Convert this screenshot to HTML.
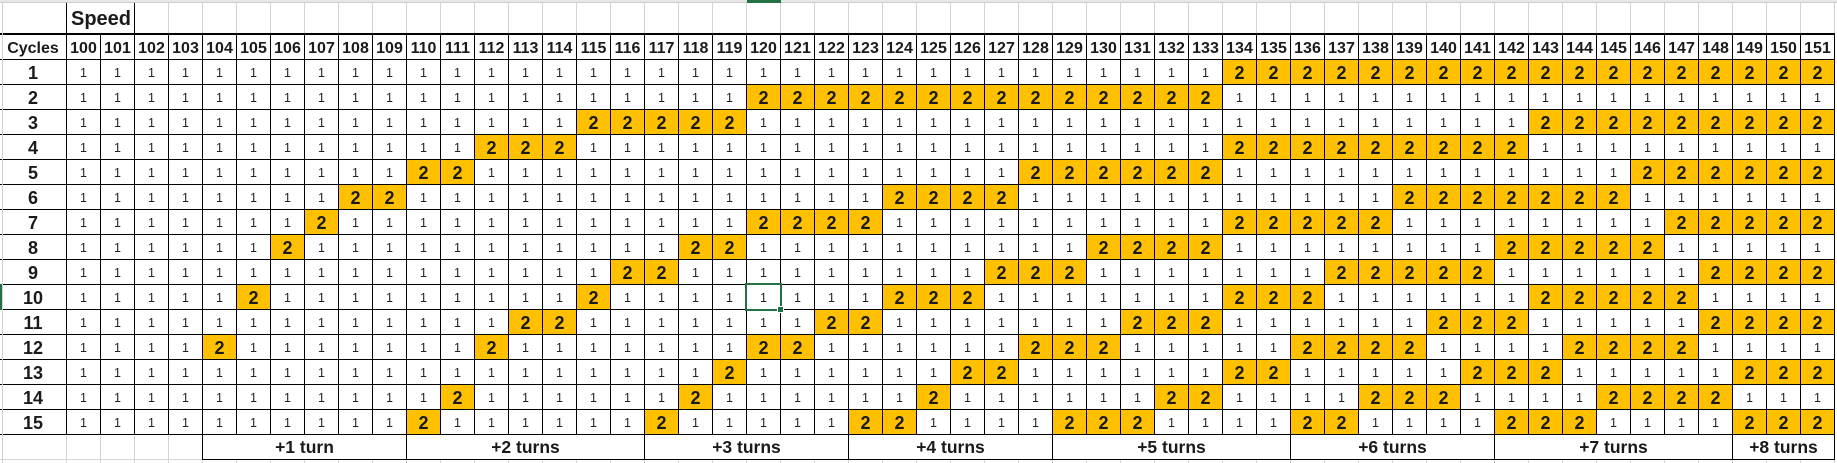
<!DOCTYPE html>
<html><head><meta charset="utf-8"><style>
*{margin:0;padding:0;box-sizing:border-box}
html,body{width:1837px;height:463px;overflow:hidden;background:#fff;font-family:"Liberation Sans",Arial,sans-serif;color:#1a1a1a;position:relative}
.top{position:absolute;left:0;top:0;width:1837px;height:3px;background:#e8e8e8;border-bottom:1px solid #cdcdcd}
.gl{position:absolute;background:repeating-linear-gradient(to right,#d4d4d4 0 1px,transparent 1px 34px)}
.speed{position:absolute;left:66px;top:3px;width:69px;height:30px;background:#fff;border-left:1px solid #000;border-right:1px solid #000;font-weight:bold;font-size:20px;padding-left:4px;padding-top:5px;line-height:22px}
.g{position:absolute;left:0;top:33px;display:grid;grid-template-columns:66px repeat(52,33px);grid-template-rows:repeat(16,24px);gap:1px;background:#000;border-top:2px solid #000;border-right:1px solid #000;border-bottom:1px solid #000}
.g>*{background:#fff;display:flex;align-items:center;justify-content:center;text-decoration:none;font-style:normal;line-height:1}
.g>i{font-size:12.5px;padding-top:2px;color:#222}
.g>b{background:#ffc000;font-size:18px;padding-top:2px;font-weight:bold}
.g>s{font-weight:bold;font-size:18px;padding-top:2px}
.g>em{font-weight:bold;font-size:16px;padding-top:3px}
.lb{position:absolute;top:435px;height:25px;border:1px solid #000;border-top:none;background:#fff;display:flex;align-items:center;justify-content:center;font-weight:bold;font-size:17.5px;padding-top:1px}
.hl{position:absolute;left:0;top:459px;width:1835px;height:1px;background:#d4d4d4}
.vl{position:absolute;left:2px;top:3px;width:1px;height:460px;background:#d0d0d0}
.sel{position:absolute;left:745px;top:283px;width:37px;height:28px;border:2px solid #217346}
.fh{position:absolute;left:778px;top:307px;width:5px;height:5px;background:#217346;outline:1px solid #fff}
.rm{position:absolute;left:0;top:284px;width:2px;height:26px;background:#217346}
.cm{position:absolute;left:747px;top:0;width:34px;height:3px;background:#217346}
</style></head><body>
<div class="top"></div>
<div class="cm"></div>
<div class="gl" style="left:66px;top:3px;width:1770px;height:30px"></div>
<div class="speed">Speed</div>
<div class="gl" style="left:66px;top:435px;width:1770px;height:28px"></div>
<div class="hl"></div>
<div class="g">
<em>Cycles</em><em>100</em><em>101</em><em>102</em><em>103</em><em>104</em><em>105</em><em>106</em><em>107</em><em>108</em><em>109</em><em>110</em><em>111</em><em>112</em><em>113</em><em>114</em><em>115</em><em>116</em><em>117</em><em>118</em><em>119</em><em>120</em><em>121</em><em>122</em><em>123</em><em>124</em><em>125</em><em>126</em><em>127</em><em>128</em><em>129</em><em>130</em><em>131</em><em>132</em><em>133</em><em>134</em><em>135</em><em>136</em><em>137</em><em>138</em><em>139</em><em>140</em><em>141</em><em>142</em><em>143</em><em>144</em><em>145</em><em>146</em><em>147</em><em>148</em><em>149</em><em>150</em><em>151</em>
<s>1</s>
<i>1</i><i>1</i><i>1</i><i>1</i><i>1</i> <i>1</i><i>1</i><i>1</i><i>1</i><i>1</i> <i>1</i><i>1</i><i>1</i><i>1</i><i>1</i> <i>1</i><i>1</i><i>1</i><i>1</i><i>1</i> <i>1</i><i>1</i><i>1</i><i>1</i><i>1</i> <i>1</i><i>1</i><i>1</i><i>1</i><i>1</i> <i>1</i><i>1</i><i>1</i><i>1</i>
<b>2</b><b>2</b><b>2</b><b>2</b><b>2</b> <b>2</b><b>2</b><b>2</b><b>2</b><b>2</b> <b>2</b><b>2</b><b>2</b><b>2</b><b>2</b> <b>2</b><b>2</b><b>2</b>
<s>2</s>
<i>1</i><i>1</i><i>1</i><i>1</i><i>1</i> <i>1</i><i>1</i><i>1</i><i>1</i><i>1</i> <i>1</i><i>1</i><i>1</i><i>1</i><i>1</i> <i>1</i><i>1</i><i>1</i><i>1</i><i>1</i>
<b>2</b><b>2</b><b>2</b><b>2</b><b>2</b> <b>2</b><b>2</b><b>2</b><b>2</b><b>2</b> <b>2</b><b>2</b><b>2</b><b>2</b>
<i>1</i><i>1</i><i>1</i><i>1</i><i>1</i> <i>1</i><i>1</i><i>1</i><i>1</i><i>1</i> <i>1</i><i>1</i><i>1</i><i>1</i><i>1</i> <i>1</i><i>1</i><i>1</i>
<s>3</s>
<i>1</i><i>1</i><i>1</i><i>1</i><i>1</i> <i>1</i><i>1</i><i>1</i><i>1</i><i>1</i> <i>1</i><i>1</i><i>1</i><i>1</i><i>1</i>
<b>2</b><b>2</b><b>2</b><b>2</b><b>2</b>
<i>1</i><i>1</i><i>1</i><i>1</i><i>1</i> <i>1</i><i>1</i><i>1</i><i>1</i><i>1</i> <i>1</i><i>1</i><i>1</i><i>1</i><i>1</i> <i>1</i><i>1</i><i>1</i><i>1</i><i>1</i> <i>1</i><i>1</i><i>1</i>
<b>2</b><b>2</b><b>2</b><b>2</b><b>2</b> <b>2</b><b>2</b><b>2</b><b>2</b>
<s>4</s>
<i>1</i><i>1</i><i>1</i><i>1</i><i>1</i> <i>1</i><i>1</i><i>1</i><i>1</i><i>1</i> <i>1</i><i>1</i>
<b>2</b><b>2</b><b>2</b>
<i>1</i><i>1</i><i>1</i><i>1</i><i>1</i> <i>1</i><i>1</i><i>1</i><i>1</i><i>1</i> <i>1</i><i>1</i><i>1</i><i>1</i><i>1</i> <i>1</i><i>1</i><i>1</i><i>1</i>
<b>2</b><b>2</b><b>2</b><b>2</b><b>2</b> <b>2</b><b>2</b><b>2</b><b>2</b>
<i>1</i><i>1</i><i>1</i><i>1</i><i>1</i> <i>1</i><i>1</i><i>1</i><i>1</i>
<s>5</s>
<i>1</i><i>1</i><i>1</i><i>1</i><i>1</i> <i>1</i><i>1</i><i>1</i><i>1</i><i>1</i>
<b>2</b><b>2</b>
<i>1</i><i>1</i><i>1</i><i>1</i><i>1</i> <i>1</i><i>1</i><i>1</i><i>1</i><i>1</i> <i>1</i><i>1</i><i>1</i><i>1</i><i>1</i> <i>1</i>
<b>2</b><b>2</b><b>2</b><b>2</b><b>2</b> <b>2</b>
<i>1</i><i>1</i><i>1</i><i>1</i><i>1</i> <i>1</i><i>1</i><i>1</i><i>1</i><i>1</i> <i>1</i><i>1</i>
<b>2</b><b>2</b><b>2</b><b>2</b><b>2</b> <b>2</b>
<s>6</s>
<i>1</i><i>1</i><i>1</i><i>1</i><i>1</i> <i>1</i><i>1</i><i>1</i>
<b>2</b><b>2</b>
<i>1</i><i>1</i><i>1</i><i>1</i><i>1</i> <i>1</i><i>1</i><i>1</i><i>1</i><i>1</i> <i>1</i><i>1</i><i>1</i><i>1</i>
<b>2</b><b>2</b><b>2</b><b>2</b>
<i>1</i><i>1</i><i>1</i><i>1</i><i>1</i> <i>1</i><i>1</i><i>1</i><i>1</i><i>1</i> <i>1</i>
<b>2</b><b>2</b><b>2</b><b>2</b><b>2</b> <b>2</b><b>2</b>
<i>1</i><i>1</i><i>1</i><i>1</i><i>1</i> <i>1</i>
<s>7</s>
<i>1</i><i>1</i><i>1</i><i>1</i><i>1</i> <i>1</i><i>1</i>
<b>2</b>
<i>1</i><i>1</i><i>1</i><i>1</i><i>1</i> <i>1</i><i>1</i><i>1</i><i>1</i><i>1</i> <i>1</i><i>1</i>
<b>2</b><b>2</b><b>2</b><b>2</b>
<i>1</i><i>1</i><i>1</i><i>1</i><i>1</i> <i>1</i><i>1</i><i>1</i><i>1</i><i>1</i>
<b>2</b><b>2</b><b>2</b><b>2</b><b>2</b>
<i>1</i><i>1</i><i>1</i><i>1</i><i>1</i> <i>1</i><i>1</i><i>1</i>
<b>2</b><b>2</b><b>2</b><b>2</b><b>2</b>
<s>8</s>
<i>1</i><i>1</i><i>1</i><i>1</i><i>1</i> <i>1</i>
<b>2</b>
<i>1</i><i>1</i><i>1</i><i>1</i><i>1</i> <i>1</i><i>1</i><i>1</i><i>1</i><i>1</i> <i>1</i>
<b>2</b><b>2</b>
<i>1</i><i>1</i><i>1</i><i>1</i><i>1</i> <i>1</i><i>1</i><i>1</i><i>1</i><i>1</i>
<b>2</b><b>2</b><b>2</b><b>2</b>
<i>1</i><i>1</i><i>1</i><i>1</i><i>1</i> <i>1</i><i>1</i><i>1</i>
<b>2</b><b>2</b><b>2</b><b>2</b><b>2</b>
<i>1</i><i>1</i><i>1</i><i>1</i><i>1</i>
<s>9</s>
<i>1</i><i>1</i><i>1</i><i>1</i><i>1</i> <i>1</i><i>1</i><i>1</i><i>1</i><i>1</i> <i>1</i><i>1</i><i>1</i><i>1</i><i>1</i> <i>1</i>
<b>2</b><b>2</b>
<i>1</i><i>1</i><i>1</i><i>1</i><i>1</i> <i>1</i><i>1</i><i>1</i><i>1</i>
<b>2</b><b>2</b><b>2</b>
<i>1</i><i>1</i><i>1</i><i>1</i><i>1</i> <i>1</i><i>1</i>
<b>2</b><b>2</b><b>2</b><b>2</b><b>2</b>
<i>1</i><i>1</i><i>1</i><i>1</i><i>1</i> <i>1</i>
<b>2</b><b>2</b><b>2</b><b>2</b>
<s>10</s>
<i>1</i><i>1</i><i>1</i><i>1</i><i>1</i>
<b>2</b>
<i>1</i><i>1</i><i>1</i><i>1</i><i>1</i> <i>1</i><i>1</i><i>1</i><i>1</i>
<b>2</b>
<i>1</i><i>1</i><i>1</i><i>1</i><i>1</i> <i>1</i><i>1</i><i>1</i>
<b>2</b><b>2</b><b>2</b>
<i>1</i><i>1</i><i>1</i><i>1</i><i>1</i> <i>1</i><i>1</i>
<b>2</b><b>2</b><b>2</b>
<i>1</i><i>1</i><i>1</i><i>1</i><i>1</i> <i>1</i>
<b>2</b><b>2</b><b>2</b><b>2</b><b>2</b>
<i>1</i><i>1</i><i>1</i><i>1</i>
<s>11</s>
<i>1</i><i>1</i><i>1</i><i>1</i><i>1</i> <i>1</i><i>1</i><i>1</i><i>1</i><i>1</i> <i>1</i><i>1</i><i>1</i>
<b>2</b><b>2</b>
<i>1</i><i>1</i><i>1</i><i>1</i><i>1</i> <i>1</i><i>1</i>
<b>2</b><b>2</b>
<i>1</i><i>1</i><i>1</i><i>1</i><i>1</i> <i>1</i><i>1</i>
<b>2</b><b>2</b><b>2</b>
<i>1</i><i>1</i><i>1</i><i>1</i><i>1</i> <i>1</i>
<b>2</b><b>2</b><b>2</b>
<i>1</i><i>1</i><i>1</i><i>1</i><i>1</i>
<b>2</b><b>2</b><b>2</b><b>2</b>
<s>12</s>
<i>1</i><i>1</i><i>1</i><i>1</i>
<b>2</b>
<i>1</i><i>1</i><i>1</i><i>1</i><i>1</i> <i>1</i><i>1</i>
<b>2</b>
<i>1</i><i>1</i><i>1</i><i>1</i><i>1</i> <i>1</i><i>1</i>
<b>2</b><b>2</b>
<i>1</i><i>1</i><i>1</i><i>1</i><i>1</i> <i>1</i>
<b>2</b><b>2</b><b>2</b>
<i>1</i><i>1</i><i>1</i><i>1</i><i>1</i>
<b>2</b><b>2</b><b>2</b><b>2</b>
<i>1</i><i>1</i><i>1</i><i>1</i>
<b>2</b><b>2</b><b>2</b><b>2</b>
<i>1</i><i>1</i><i>1</i><i>1</i>
<s>13</s>
<i>1</i><i>1</i><i>1</i><i>1</i><i>1</i> <i>1</i><i>1</i><i>1</i><i>1</i><i>1</i> <i>1</i><i>1</i><i>1</i><i>1</i><i>1</i> <i>1</i><i>1</i><i>1</i><i>1</i>
<b>2</b>
<i>1</i><i>1</i><i>1</i><i>1</i><i>1</i> <i>1</i>
<b>2</b><b>2</b>
<i>1</i><i>1</i><i>1</i><i>1</i><i>1</i> <i>1</i>
<b>2</b><b>2</b>
<i>1</i><i>1</i><i>1</i><i>1</i><i>1</i>
<b>2</b><b>2</b><b>2</b>
<i>1</i><i>1</i><i>1</i><i>1</i><i>1</i>
<b>2</b><b>2</b><b>2</b>
<s>14</s>
<i>1</i><i>1</i><i>1</i><i>1</i><i>1</i> <i>1</i><i>1</i><i>1</i><i>1</i><i>1</i> <i>1</i>
<b>2</b>
<i>1</i><i>1</i><i>1</i><i>1</i><i>1</i> <i>1</i>
<b>2</b>
<i>1</i><i>1</i><i>1</i><i>1</i><i>1</i> <i>1</i>
<b>2</b>
<i>1</i><i>1</i><i>1</i><i>1</i><i>1</i> <i>1</i>
<b>2</b><b>2</b>
<i>1</i><i>1</i><i>1</i><i>1</i>
<b>2</b><b>2</b><b>2</b>
<i>1</i><i>1</i><i>1</i><i>1</i>
<b>2</b><b>2</b><b>2</b><b>2</b>
<i>1</i><i>1</i><i>1</i>
<s>15</s>
<i>1</i><i>1</i><i>1</i><i>1</i><i>1</i> <i>1</i><i>1</i><i>1</i><i>1</i><i>1</i>
<b>2</b>
<i>1</i><i>1</i><i>1</i><i>1</i><i>1</i> <i>1</i>
<b>2</b>
<i>1</i><i>1</i><i>1</i><i>1</i><i>1</i>
<b>2</b><b>2</b>
<i>1</i><i>1</i><i>1</i><i>1</i>
<b>2</b><b>2</b><b>2</b>
<i>1</i><i>1</i><i>1</i><i>1</i>
<b>2</b><b>2</b>
<i>1</i><i>1</i><i>1</i><i>1</i>
<b>2</b><b>2</b><b>2</b>
<i>1</i><i>1</i><i>1</i><i>1</i>
<b>2</b><b>2</b><b>2</b>
</div>
<div class="lb" style="left:202px;width:205px">+1 turn</div>
<div class="lb" style="left:406px;width:239px">+2 turns</div>
<div class="lb" style="left:644px;width:205px">+3 turns</div>
<div class="lb" style="left:848px;width:205px">+4 turns</div>
<div class="lb" style="left:1052px;width:239px">+5 turns</div>
<div class="lb" style="left:1290px;width:205px">+6 turns</div>
<div class="lb" style="left:1494px;width:239px">+7 turns</div>
<div class="lb" style="left:1732px;width:103px">+8 turns</div>
<div class="vl"></div>
<div class="rm"></div>
<div class="sel"></div>
<div class="fh"></div>
</body></html>
